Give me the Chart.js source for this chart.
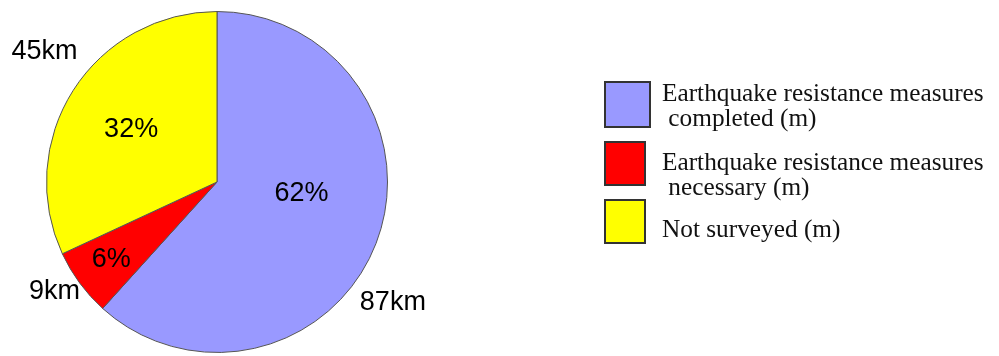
<!DOCTYPE html>
<html>
<head>
<meta charset="utf-8">
<script src="https://cdn.jsdelivr.net/npm/chart.js@4/dist/chart.umd.min.js"></script>
<style>
  html, body { margin: 0; padding: 0; background: #fff; }
  canvas { display: block; }
</style>
</head>
<body>
<canvas id="pie" width="999" height="356"></canvas>
<script>
// ── Data ────────────────────────────────────────────────
const categories = [
  ['Earthquake resistance measures', ' completed (m)'],
  ['Earthquake resistance measures', ' necessary (m)'],
  ['Not surveyed (m)'],
];
const lengthsKm = [87, 9, 45];
const sliceColors = ['#9999FF', '#FF0000', '#FFFF00'];

// where labels sit inside each slice: [fraction of slice angle, fraction of radius]
const pctAt = [[0.44, 0.50], [0.50, 0.77], [0.49, 0.59]];
const kmAt  = [[0.56, 1.25], [0.60, 1.15], [0.54, 1.27]];

const total = lengthsKm.reduce((a, b) => a + b, 0);

// ── Slice labels (percent inside, km outside) ───────────
const sliceLabels = {
  id: 'sliceLabels',
  afterDatasetsDraw(chart) {
    const ctx = chart.ctx;
    const arcs = chart.getDatasetMeta(0).data;
    ctx.save();
    ctx.fillStyle = '#000';
    ctx.font = '27px "Liberation Sans", Arial, sans-serif';
    ctx.textAlign = 'center';
    ctx.textBaseline = 'middle';
    arcs.forEach((arc, i) => {
      const { x, y, startAngle, endAngle, outerRadius } = arc.getProps(['x', 'y', 'startAngle', 'endAngle', 'outerRadius'], true);
      const place = ([f, r]) => {
        const a = startAngle + (endAngle - startAngle) * f;
        return [x + Math.cos(a) * outerRadius * r, y + Math.sin(a) * outerRadius * r];
      };
      const pct = Math.round(lengthsKm[i] / total * 100) + '%';
      const [px, py] = place(pctAt[i]);
      ctx.fillText(pct, px, py);
      const [kx, ky] = place(kmAt[i]);
      ctx.fillText(lengthsKm[i] + 'km', kx, ky);
    });
    ctx.restore();
  }
};

// ── Legend on the right (serif, boxed swatches) ─────────
const sideLegend = {
  id: 'sideLegend',
  afterDraw(chart) {
    const ctx = chart.ctx;
    const boxes = [[605, 82, 45, 45], [605, 142, 40, 43], [605, 200, 40, 43]];
    const firstBaseline = [101, 170, 237];
    ctx.save();
    ctx.font = '25.3px "Liberation Serif", "Times New Roman", serif';
    ctx.textBaseline = 'alphabetic';
    ctx.textAlign = 'left';
    categories.forEach((lines, i) => {
      const [bx, by, bw, bh] = boxes[i];
      ctx.fillStyle = sliceColors[i];
      ctx.fillRect(bx, by, bw, bh);
      ctx.strokeStyle = '#333';
      ctx.lineWidth = 2;
      ctx.strokeRect(bx, by, bw, bh);
      ctx.fillStyle = '#111';
      lines.forEach((t, j) => ctx.fillText(t, 662, firstBaseline[i] + j * 25));
    });
    ctx.restore();
  }
};

new Chart(document.getElementById('pie'), {
  type: 'pie',
  data: {
    labels: categories.map(l => l.join('')),
    datasets: [{
      data: lengthsKm,
      backgroundColor: sliceColors,
      borderColor: '#555',
      borderWidth: 1,
      hoverOffset: 0,
      offset: 0,
    }],
  },
  options: {
    responsive: false,
    animation: false,
    events: [],
    layout: { padding: { left: 46, top: 11, right: 611, bottom: 3 } },
    plugins: {
      legend: { display: false },
      tooltip: { enabled: false },
    },
  },
  plugins: [sliceLabels, sideLegend],
});
</script>
</body>
</html>
